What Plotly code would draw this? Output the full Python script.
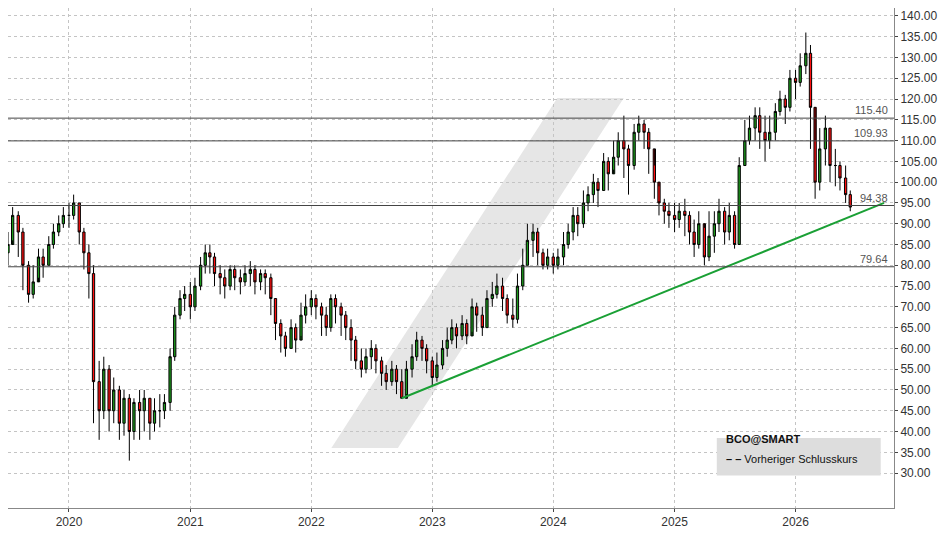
import pandas as pd
import plotly.graph_objects as go

dates = pd.date_range("2019-07-01", "2026-06-30", freq="SMS")

closes = [
    85, 92, 88, 80, 73, 76, 82, 80, 85, 88, 90, 92,
    92, 95, 88, 83, 78, 52, 45, 55, 45, 50, 42, 48, 40, 47, 45, 48, 42, 45, 45, 47, 58, 68, 72, 73,
    70, 75, 80, 83, 82, 78, 77, 75, 79, 77, 76, 78, 79, 76, 78, 77, 72, 66, 63, 60, 65, 62, 68, 70,
    72, 70, 68, 65, 72, 70, 68, 65, 62, 57, 55, 58, 60, 57, 54, 52, 55, 52, 48, 55, 58, 62, 60, 57,
    53, 56, 60, 62, 65, 63, 66, 63, 70, 68, 65, 72, 73, 75, 72, 68, 67, 75, 80, 86, 88, 83, 80, 82,
    80, 82, 85, 88, 92, 90, 95, 97, 100, 98, 105, 102, 106, 110, 108, 104, 112, 114, 112, 108, 100, 95, 93, 92,
    91, 93, 92, 88, 85, 90, 82, 87, 90, 93, 88, 92, 85, 104, 110, 113, 116, 112, 110, 112, 117, 120, 118, 125,
    124, 128, 131, 118, 100, 108, 113, 104, 104, 101, 97, 94,
]
highs = [
    88, 94, 93, 89, 81, 80, 84, 84, 87, 90, 92, 94,
    95, 97, 95, 89, 85, 80, 57, 58, 56, 53, 51, 50, 49, 48, 50, 50, 48, 48, 49, 49, 60, 70, 74, 75,
    76, 77, 82, 85, 85, 83, 80, 79, 80, 80, 79, 80, 81, 80, 79, 79, 78, 72, 67, 64, 67, 66, 71, 73,
    74, 73, 71, 70, 73, 73, 71, 69, 67, 63, 60, 60, 62, 61, 58, 56, 57, 56, 55, 57, 61, 64, 63, 61,
    58, 59, 62, 65, 67, 66, 68, 67, 72, 71, 70, 74, 76, 78, 77, 73, 72, 78, 84, 90, 90, 89, 84, 84,
    83, 84, 88, 90, 94, 94, 98, 99, 102, 101, 107, 106, 110, 112, 116, 109, 114, 116, 115, 113, 104, 99, 96, 95,
    95, 95, 96, 93, 91, 93, 89, 93, 93, 96, 94, 95, 93, 106, 115, 116, 118, 118, 116, 116, 119, 122, 121, 127,
    127, 131, 136, 133, 110, 113, 116, 113, 108, 105, 104, 98,
]
lows = [
    80, 86, 82, 74, 71, 72, 77, 77, 80, 84, 87, 89,
    89, 91, 85, 79, 72, 42, 38, 43, 40, 42, 38, 39, 33, 38, 38, 40, 38, 40, 41, 43, 45, 57, 67, 69,
    67, 69, 74, 78, 78, 75, 73, 72, 74, 74, 73, 75, 75, 73, 74, 73, 68, 62, 59, 58, 60, 59, 63, 66,
    68, 67, 63, 63, 64, 66, 63, 62, 57, 55, 53, 54, 55, 54, 51, 50, 51, 49, 48, 49, 53, 57, 57, 54,
    51, 52, 55, 58, 61, 60, 62, 61, 64, 64, 63, 65, 70, 72, 69, 66, 65, 66, 74, 80, 82, 80, 79, 79,
    78, 79, 80, 84, 86, 87, 89, 93, 95, 94, 98, 98, 103, 104, 101, 97, 103, 110, 108, 102, 96, 92, 90, 89,
    88, 89, 87, 85, 82, 84, 80, 81, 83, 88, 85, 86, 84, 85, 104, 109, 110, 108, 105, 108, 110, 116, 114, 117,
    120, 123, 126, 108, 96, 98, 104, 100, 99, 98, 95, 93,
]
opens = [closes[0] - 2] + closes[:-1]

levels = [115.40, 109.93, 94.38, 79.64]
trend_x = ["2022-10-01", "2026-09-25"]
trend_y = [48, 95]
y_ticks = list(range(30, 145, 5))
year_ticks = [f"{y}-01-01" for y in range(2020, 2027)]

fig = go.Figure()
fig.add_trace(go.Candlestick(
    x=dates, open=opens, high=highs, low=lows, close=closes,
    increasing=dict(line=dict(color="black", width=1), fillcolor="#1c9a1c"),
    decreasing=dict(line=dict(color="black", width=1), fillcolor="#ff1010"),
    whiskerwidth=0, showlegend=False,
))
fig.add_trace(go.Scatter(x=trend_x, y=trend_y, mode="lines",
                         line=dict(color="#1aa035", width=2), showlegend=False))

shapes = [dict(type="path", xref="paper", yref="paper", layer="below",
               path="M 0.365,0.12 L 0.44,0.12 L 0.695,0.82 L 0.62,0.82 Z",
               fillcolor="#e6e6e6", line=dict(width=0))]
annotations = []
for lv in levels:
    shapes.append(dict(type="line", xref="paper", x0=0, x1=1, y0=lv, y1=lv,
                       line=dict(color="#444444", width=1)))
    annotations.append(dict(xref="paper", x=0.995, y=lv, text=f"{lv:.2f}", showarrow=False,
                            xanchor="right", yanchor="bottom", font=dict(size=11, color="#555555")))
shapes.append(dict(type="rect", xref="paper", yref="paper", x0=0.80, x1=0.985, y0=0.065, y1=0.14,
                   fillcolor="#dddddd", line=dict(width=0)))
annotations.append(dict(xref="paper", yref="paper", x=0.808, y=0.123, text="<b>BCO@SMART</b>",
                        showarrow=False, xanchor="left", font=dict(size=11, color="#111111")))
annotations.append(dict(xref="paper", yref="paper", x=0.808, y=0.083,
                        text="<b>– –</b> Vorheriger Schlusskurs", showarrow=False, xanchor="left",
                        font=dict(size=11, color="#111111")))

fig.update_layout(
    width=948, height=534, margin=dict(l=0, r=62, t=0, b=34),
    plot_bgcolor="white", paper_bgcolor="white",
    font=dict(family="Liberation Sans, Arial", size=12, color="#333333"),
    shapes=shapes, annotations=annotations,
    xaxis=dict(range=["2019-07-01", "2026-10-25"], rangeslider=dict(visible=False),
               tickvals=year_ticks, ticktext=[y[:4] for y in year_ticks],
               showgrid=True, gridcolor="#c4c4c4", griddash="3px,3px", zeroline=False,
               showline=True, linecolor="#888888", ticks="outside", ticklen=3),
    yaxis=dict(side="right", range=[21.6, 141.9], tickvals=y_ticks,
               ticktext=[f"{v:.2f}" for v in y_ticks], showgrid=True, gridcolor="#c4c4c4",
               griddash="3px,3px", zeroline=False, showline=True, linecolor="#888888",
               ticks="outside", ticklen=3),
)
fig.write_html("out.html")
